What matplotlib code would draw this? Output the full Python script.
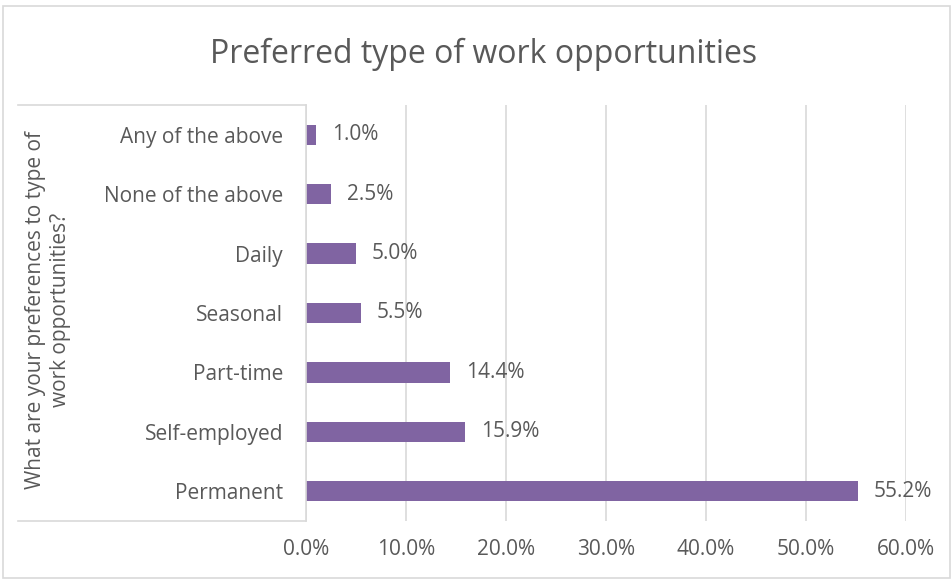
import matplotlib.pyplot as plt
from matplotlib.lines import Line2D
from matplotlib.patches import Rectangle

categories = ["Permanent", "Self-employed", "Part-time", "Seasonal", "Daily",
              "None of the above", "Any of the above"]
values = [55.2, 15.9, 14.4, 5.5, 5.0, 2.5, 1.0]
xticks = [0, 10, 20, 30, 40, 50, 60]

TEXT = "#595959"
BAR = "#8064A2"
GRID = "#d9d9d9"
W, H = 951, 579
FS = 15

plt.rcParams["font.family"] = ["Open Sans", "DejaVu Sans"]

fig = plt.figure(figsize=(W / 100, H / 100), dpi=100)


def fx(px):
    return px / W


def fy(py):
    return 1 - py / H


ax = fig.add_axes([fx(306), fy(521), fx(906) - fx(306), fy(105) - fy(521)])

y = range(len(categories))
ax.barh(y, values, height=0.34, color=BAR, zorder=3)
for i, v in enumerate(values):
    ax.text(v + 1.6, i, f"{v:.1f}%", va="center", ha="left",
            fontsize=FS, color=TEXT)

ax.set_xlim(0, 60)
ax.set_ylim(-0.5, len(categories) - 0.5)
ax.set_xticks(xticks)
ax.set_xticklabels([f"{t:.1f}%" for t in xticks])
ax.set_yticks(list(y))
ax.set_yticklabels(categories)
ax.tick_params(axis="both", length=0, labelsize=FS, colors=TEXT)
ax.tick_params(axis="x", pad=13)
ax.tick_params(axis="y", pad=16.5)
ax.grid(axis="x", color=GRID, linewidth=1.2, zorder=0)
for s in ax.spines.values():
    s.set_visible(False)

# category box
for (x0, y0, x1, y1) in [(18, 105, 306, 105), (18, 521, 306, 521), (306, 105, 306, 521)]:
    fig.add_artist(Line2D([fx(x0), fx(x1)], [fy(y0), fy(y1)], color=GRID, linewidth=1.2))

fig.text(fx(48), fy(310), "What are your preferences to type of\nwork opportunities?",
         rotation=90, ha="center", va="center", fontsize=FS, color=TEXT,
         linespacing=1.2)

fig.suptitle("Preferred type of work opportunities", x=fx(484), y=fy(54),
             va="center", fontsize=23, color=TEXT)

fig.add_artist(Rectangle((fx(3), fy(578)), fx(947), fy(6) - fy(578),
                         fill=False, edgecolor=GRID, linewidth=1.2))

fig.savefig("out.png", dpi=100)
